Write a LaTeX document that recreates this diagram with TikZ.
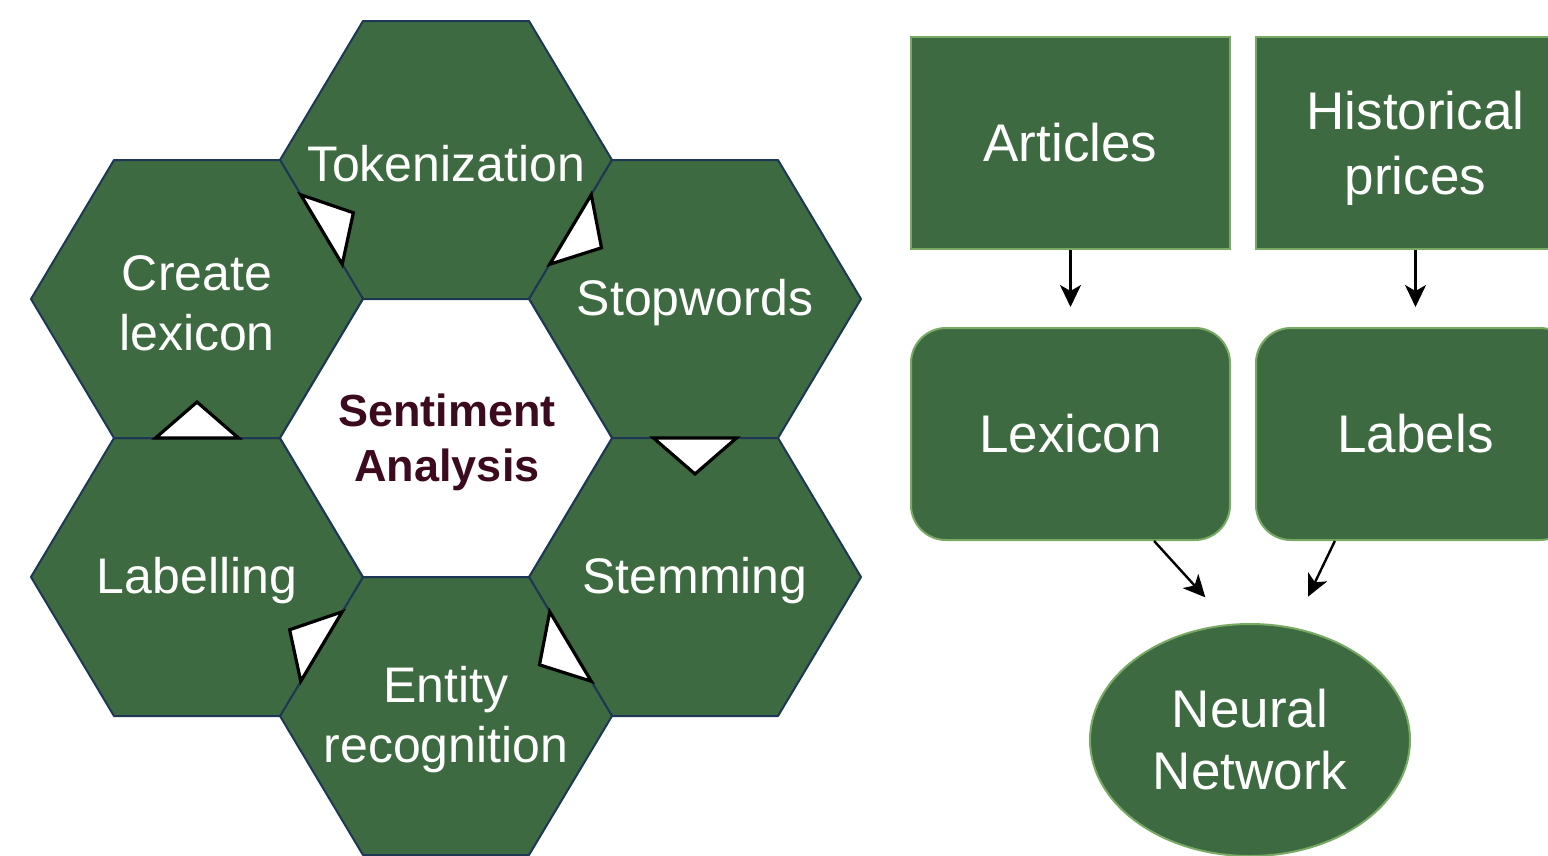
\documentclass[tikz,border=0pt]{standalone}
\usepackage{fontspec}
\setmainfont{Liberation Sans}
\usepackage{xcolor}
\usetikzlibrary{arrows.meta, calc, positioning, shapes.geometric}
\definecolor{hexgreen}{RGB}{61, 106, 64}
\definecolor{hexedge}{RGB}{30, 55, 85}
\definecolor{boxedge}{RGB}{120, 170, 100}
\definecolor{titlemaroon}{RGB}{60, 10, 30}

\tikzset{
    hexcell/.style={fill=hexgreen, draw=hexedge, line width=2pt, line join=round},
    hextext/.style={text=white, align=center, yshift=-4pt, font=\fontsize{50}{60}\selectfont},
    titletext/.style={text=titlemaroon, align=center, yshift=-4pt, font=\bfseries\fontsize{45}{55}\selectfont},
    cyclemark/.style={fill=white, draw=black, line width=3.2pt, line join=miter},
    srcbox/.style={fill=hexgreen, draw=boxedge, line width=2pt, minimum width=319pt, minimum height=212pt,
        text=white, align=center, font=\fontsize{53}{65}\selectfont},
    nnode/.style={ellipse, fill=hexgreen, draw=boxedge, line width=2pt, minimum width=320pt, minimum height=232pt,
        inner sep=0pt, text=white, align=center, font=\fontsize{53}{62}\selectfont},
    flow/.style={draw=black, line width=2.4pt, -{Stealth[length=22pt, width=21pt, inset=6pt]}}
}

% white triangle on a shared hexagon edge, pointing to the next step
\newcommand{\cyclearrow}[3]{%
    \coordinate (markmid) at ($(#1)!0.5!(#2)$);
    \draw[cyclemark] ($(#1)!0.25!(#2)$) -- ($(markmid)!36pt!(#3.center)$) -- ($(#1)!0.75!(#2)$) -- cycle;
}

\begin{document}
\begin{tikzpicture}[x=1pt, y=-1pt]
    \useasboundingbox (0,0) rectangle (1548,855);
    \clip (0,0) rectangle (1548,855);

    % Draw Hexagons
    \foreach \name/\cx/\cy/\txt in {sa/446/438/{}, tok/446/160/Tokenization, stop/695/299/Stopwords,
        stem/695/577/Stemming, ent/446/716/{Entity\\recognition}, lab/197/577/Labelling, lex/197/299/{Create\\lexicon}} {
        \coordinate (\name-e) at (\cx+166,\cy);
        \coordinate (\name-ne) at (\cx+83,\cy-139);
        \coordinate (\name-nw) at (\cx-83,\cy-139);
        \coordinate (\name-w) at (\cx-166,\cy);
        \coordinate (\name-sw) at (\cx-83,\cy+139);
        \coordinate (\name-se) at (\cx+83,\cy+139);
        \draw[hexcell] (\name-e) -- (\name-ne) -- (\name-nw) -- (\name-w) -- (\name-sw) -- (\name-se) -- cycle;
        \node[hextext] (\name) at (\cx,\cy) {\txt};
    }
    \fill[white] (sa-e) -- (sa-ne) -- (sa-nw) -- (sa-w) -- (sa-sw) -- (sa-se) -- cycle;
    \draw[hexedge, line width=2pt] (sa-e) -- (sa-ne) -- (sa-nw) -- (sa-w) -- (sa-sw) -- (sa-se) -- cycle;
    \node[titletext] (title) at (447,438) {Sentiment\\Analysis};

    % Draw Cycle Triangles
    \cyclearrow{lex-sw}{lex-se}{lex}
    \cyclearrow{tok-w}{tok-sw}{tok}
    \cyclearrow{tok-e}{tok-se}{stop}
    \cyclearrow{stop-sw}{stop-se}{stem}
    \cyclearrow{ent-ne}{ent-e}{ent}
    \cyclearrow{ent-nw}{ent-w}{lab}

    % Draw Pipeline Boxes
    \node[srcbox] (articles) at (1070.5,143) {Articles};
    \node[srcbox, text depth=0pt] (history) at (1415.5,143) {Historical\\prices};
    \node[srcbox, rounded corners=35pt] (lexicon) at (1070.5,434) {\raisebox{-3pt}{Lexicon}};
    \node[srcbox, rounded corners=35pt] (labels) at (1415.5,434) {\raisebox{-3pt}{Labels}};
    \node[nnode] (nn) at (1250,740) {\raisebox{-4pt}{Neural}\\\raisebox{-4pt}{Network}};

    % Draw Arrows
    \draw[flow, shorten >=20pt] (articles) -- (lexicon);
    \draw[flow, shorten >=20pt] (history) -- (labels);
    \draw[flow, shorten >=36pt] (lexicon.-52) -- (nn.100);
    \draw[flow, shorten >=34pt] (labels.-127) -- (nn.69);
\end{tikzpicture}
\end{document}
